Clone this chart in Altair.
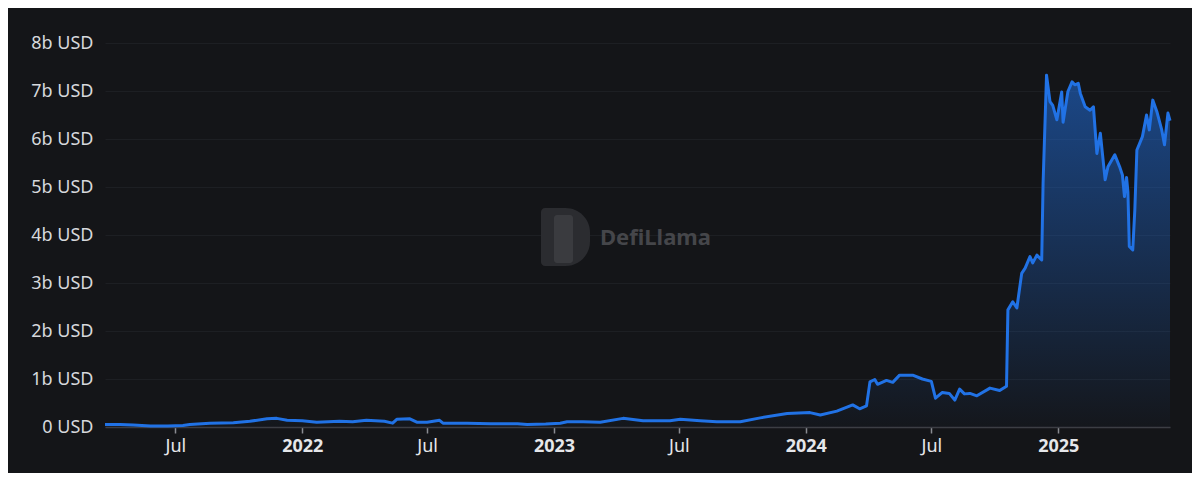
import altair as alt
import pandas as pd

dates = [
    "2021-03-21", "2021-04-12", "2021-05-01", "2021-05-26", "2021-06-20", "2021-07-12",
    "2021-07-22", "2021-08-20", "2021-09-23", "2021-10-17", "2021-11-11", "2021-11-25",
    "2021-12-10", "2022-01-01", "2022-01-22", "2022-02-24", "2022-03-15", "2022-04-04",
    "2022-04-30", "2022-05-12", "2022-05-18", "2022-06-06", "2022-06-16", "2022-07-01",
    "2022-07-19", "2022-07-24", "2022-08-28", "2022-10-01", "2022-11-09", "2022-11-23",
    "2022-12-20", "2023-01-10", "2023-01-20", "2023-02-12", "2023-03-09", "2023-04-11",
    "2023-05-10", "2023-06-18", "2023-07-03", "2023-08-01", "2023-08-25", "2023-09-28",
    "2023-10-27", "2023-12-05", "2024-01-07", "2024-01-22", "2024-02-15", "2024-03-09",
    "2024-03-19", "2024-03-29", "2024-04-03", "2024-04-10", "2024-04-14", "2024-04-27",
    "2024-05-06", "2024-05-16", "2024-06-04", "2024-06-18", "2024-07-01", "2024-07-07",
    "2024-07-17", "2024-07-27", "2024-08-04", "2024-08-11", "2024-08-18", "2024-08-26",
    "2024-09-05", "2024-09-24", "2024-10-08", "2024-10-18", "2024-10-20", "2024-10-27",
    "2024-11-02", "2024-11-09", "2024-11-14", "2024-11-21", "2024-11-25", "2024-12-01",
    "2024-12-08", "2024-12-10", "2024-12-15", "2024-12-20", "2024-12-24", "2024-12-30",
    "2025-01-06", "2025-01-08", "2025-01-15", "2025-01-21", "2025-01-25", "2025-01-30",
    "2025-02-02", "2025-02-09", "2025-02-16", "2025-02-21", "2025-02-26", "2025-03-03",
    "2025-03-06", "2025-03-10", "2025-03-14", "2025-03-24", "2025-03-31", "2025-04-04",
    "2025-04-07", "2025-04-10", "2025-04-12", "2025-04-14", "2025-04-19", "2025-04-22",
    "2025-04-25", "2025-04-29", "2025-05-03", "2025-05-09", "2025-05-13", "2025-05-18",
    "2025-05-24", "2025-05-31", "2025-06-04", "2025-06-09", "2025-06-12",
]

tvl_billion_usd = [
    0.05, 0.05, 0.04, 0.02, 0.02, 0.03,
    0.05, 0.08, 0.09, 0.12, 0.17, 0.18,
    0.14, 0.13, 0.10, 0.12, 0.11, 0.14,
    0.12, 0.08, 0.16, 0.17, 0.10, 0.10,
    0.14, 0.08, 0.08, 0.07, 0.07, 0.05,
    0.06, 0.08, 0.11, 0.11, 0.10, 0.18,
    0.13, 0.13, 0.16, 0.13, 0.11, 0.11,
    0.19, 0.28, 0.30, 0.25, 0.33, 0.46,
    0.38, 0.44, 0.94, 0.99, 0.89, 0.97,
    0.93, 1.08, 1.08, 1.00, 0.95, 0.60,
    0.72, 0.70, 0.56, 0.79, 0.69, 0.70,
    0.65, 0.81, 0.76, 0.85, 2.44, 2.61,
    2.48, 3.20, 3.31, 3.55, 3.42, 3.58,
    3.48, 5.08, 7.33, 6.78, 6.70, 6.40,
    6.98, 6.35, 6.99, 7.19, 7.13, 7.16,
    6.95, 6.67, 6.60, 6.67, 5.70, 6.12,
    5.70, 5.15, 5.42, 5.67, 5.42, 5.25,
    4.80, 5.20, 4.90, 3.76, 3.69, 4.52,
    5.77, 5.91, 6.05, 6.50, 6.19, 6.81,
    6.57, 6.19, 5.88, 6.54, 6.38,
]

tick_dates = [
    (2021, 7), (2022, 1), (2022, 7), (2023, 1),
    (2023, 7), (2024, 1), (2024, 7), (2025, 1),
]
y_ticks = [0, 1, 2, 3, 4, 5, 6, 7, 8]

watermark_text = ["DefiLlama"]

df = pd.DataFrame({"date": dates, "tvl": tvl_billion_usd})

BG = "#141518"
LINE = "#2172E5"
FONT = "Noto Sans"

x_enc = alt.X(
    "date:T",
    scale=alt.Scale(
        domain=[alt.DateTime(year=2021, month=3, date=21),
                alt.DateTime(year=2025, month=6, date=12)],
        nice=False,
    ),
    axis=alt.Axis(
        title=None,
        values=[alt.DateTime(year=y, month=m, date=1) for y, m in tick_dates],
        labelExpr="month(datum.value) == 0 ? timeFormat(datum.value, '%Y') : 'Jul'",
        labelFontWeight={"condition": {"test": "month(datum.value) == 0", "value": "bold"},
                         "value": "normal"},
        labelColor="#e6e7ea",
        labelFontSize=18,
        labelFont=FONT,
        labelPadding=4,
        tickSize=6,
        tickColor="#8a8c92",
        tickWidth=1.5,
        domainColor="#3c3e44",
        domainWidth=1.5,
        grid=False,
    ),
)

y_enc = alt.Y(
    "tvl:Q",
    scale=alt.Scale(domain=[0, 8], nice=False),
    axis=alt.Axis(
        title=None,
        values=y_ticks,
        labelExpr="datum.value == 0 ? '0 USD' : datum.value + 'b USD'",
        labelColor="#d6d8dc",
        labelFontSize=18,
        labelFont=FONT,
        labelPadding=12,
        ticks=False,
        domain=False,
        grid=True,
        gridColor="#1d1f23",
        gridWidth=1,
    ),
)

base = alt.Chart(df)

area = base.mark_area(
    color=alt.Gradient(
        gradient="linear",
        stops=[
            alt.GradientStop(color="rgba(33,114,229,0.55)", offset=0),
            alt.GradientStop(color="rgba(33,114,229,0.02)", offset=1),
        ],
        x1=1, x2=1, y1=0, y2=1,
    ),
    interpolate="linear",
).encode(x=x_enc, y=y_enc)

line = base.mark_line(color=LINE, strokeWidth=3, interpolate="linear",
                      strokeJoin="round").encode(
    x=alt.X("date:T"), y=alt.Y("tvl:Q")
)

wm_df = pd.DataFrame({"label": watermark_text})
logo = alt.Chart(wm_df).mark_rect(
    color="#2b2c30",
    cornerRadiusTopRight=26,
    cornerRadiusBottomRight=26,
    cornerRadiusTopLeft=4,
    cornerRadiusBottomLeft=4,
).encode(x=alt.value(436), x2=alt.value(485), y=alt.value(165), y2=alt.value(223))

logo_llama = alt.Chart(wm_df).mark_rect(color="#3a3b3f", cornerRadius=3).encode(
    x=alt.value(449), x2=alt.value(468), y=alt.value(172), y2=alt.value(220)
)

wm = alt.Chart(wm_df).mark_text(
    font=FONT, fontSize=22, fontWeight="bold", color="#45464a", align="left", baseline="middle"
).encode(x=alt.value(495), y=alt.value(195), text="label:N")

chart = (
    alt.layer(logo, logo_llama, wm, area, line)
    .properties(
        width=1065,
        height=384,
        autosize=alt.AutoSizeParams(type="none"),
        padding={"left": 97, "top": 35, "right": 22, "bottom": 46},
        background=BG,
    )
    .configure_view(stroke=None)
)

chart.save("out.html", embed_options={"renderer": "svg", "actions": False})
